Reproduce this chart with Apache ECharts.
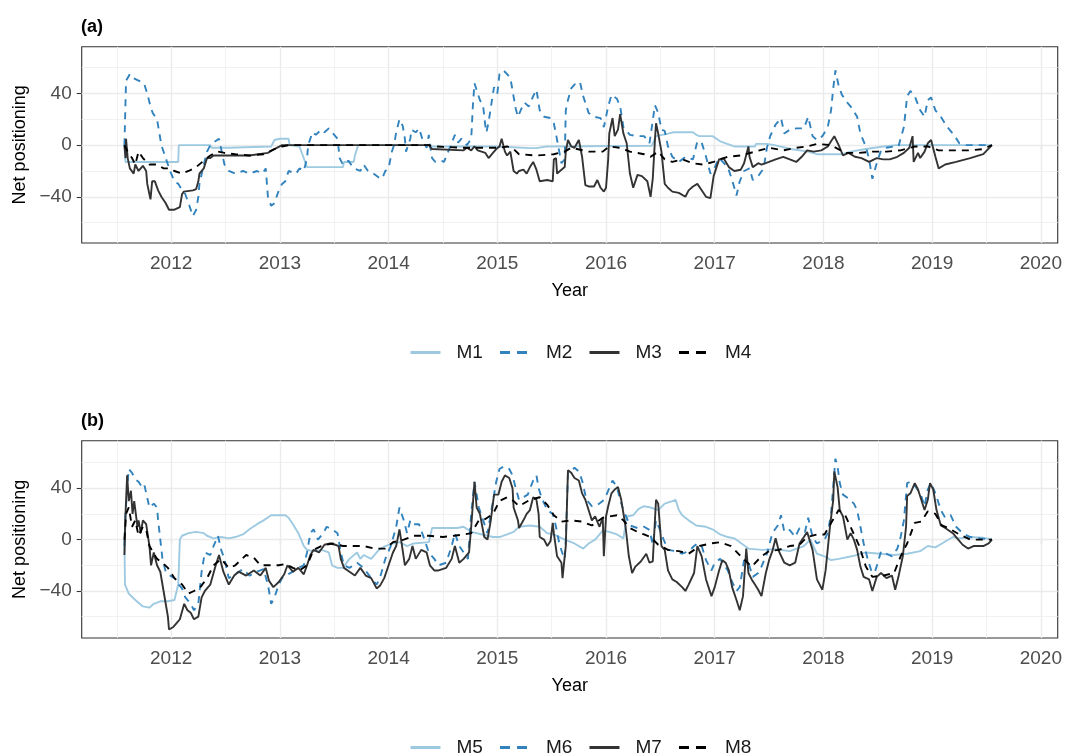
<!DOCTYPE html>
<html>
<head>
<meta charset="utf-8">
<script src="https://cdn.jsdelivr.net/npm/echarts@6/dist/echarts.min.js"></script>
<style>
  html, body { margin: 0; padding: 0; background: #fff; }
  #chart { width: 1065px; height: 755px; }
</style>
</head>
<body>
<div id="chart"></div>
<script>
// year ticks and y ticks
var yearTicks = [2012, 2013, 2014, 2015, 2016, 2017, 2018, 2019, 2020]
var halfYears = [2011.5, 2012.5, 2013.5, 2014.5, 2015.5, 2016.5, 2017.5, 2018.5, 2019.5]
var yTicks = [-40, 0, 40]
var yMinor = [-60, -20, 20, 60]

// panel (a)
var m1 = [[2011.57, 0], [2011.58, -13], [2012.065, -13], [2012.07, 0], [2012.36, 0], [2012.37, -2], [2012.53, -2],
  [2012.54, -1], [2012.92, -1], [2012.95, 4], [2013.0, 5], [2013.08, 5], [2013.09, 0], [2013.18, -1], [2013.25, -17],
  [2013.58, -17], [2013.59, -13], [2013.68, -13], [2013.69, -8], [2013.72, 0], [2014.37, 0], [2014.40, -1], [2015.0, -1],
  [2015.3, -2.3], [2015.36, -2.3], [2015.45, -1], [2016.42, -0.5], [2016.46, 7], [2016.57, 9], [2016.62, 10], [2016.80, 10],
  [2016.83, 8], [2016.86, 7], [2016.98, 7], [2017.05, 3], [2017.18, -1], [2017.37, -1], [2017.38, 1], [2017.48, 1],
  [2017.55, 0], [2017.70, -3], [2017.86, -5], [2017.94, -7], [2018.17, -7], [2018.25, -5], [2018.39, -3], [2018.55, -1],
  [2018.67, 0], [2019.55, 0]]

var m2 = [[2011.57, 0], [2011.585, 50], [2011.62, 55], [2011.65, 52], [2011.70, 50], [2011.75, 48], [2011.78, 40],
  [2011.81, 30], [2011.83, 25], [2011.87, 20], [2011.89, 10], [2011.91, 0], [2011.95, -10], [2011.99, -20], [2012.03, -28],
  [2012.066, -30], [2012.10, -35], [2012.13, -38], [2012.16, -45], [2012.20, -55], [2012.23, -50], [2012.25, -40],
  [2012.26, -30], [2012.30, -15], [2012.33, -5], [2012.36, 0], [2012.39, 2], [2012.44, 5], [2012.49, -15], [2012.53, -20],
  [2012.59, -22], [2012.66, -20], [2012.72, -22], [2012.79, -20], [2012.84, -22], [2012.87, -18], [2012.89, -40],
  [2012.92, -47], [2012.95, -45], [2012.99, -35], [2013.02, -30], [2013.05, -28], [2013.08, -20], [2013.15, -22],
  [2013.18, -18], [2013.22, -20], [2013.25, -10], [2013.26, 0], [2013.30, 10], [2013.33, 8], [2013.38, 12], [2013.41, 10],
  [2013.45, 13], [2013.50, 8], [2013.53, 5], [2013.55, -10], [2013.58, -15], [2013.63, -12], [2013.68, -18], [2013.74, -20],
  [2013.77, -15], [2013.81, -20], [2013.86, -22], [2013.91, -25], [2013.94, -26], [2013.97, -20], [2014.00, -18],
  [2014.03, -5], [2014.05, 0], [2014.07, 10], [2014.10, 20], [2014.13, 15], [2014.15, 5], [2014.16, -5], [2014.18, 0],
  [2014.20, 5], [2014.21, 12], [2014.25, 10], [2014.28, 13], [2014.31, 5], [2014.35, -2], [2014.37, 8], [2014.38, 0],
  [2014.40, -10], [2014.43, -13], [2014.48, -12], [2014.51, -13], [2014.61, 8], [2014.64, 2], [2014.67, 5], [2014.72, 0],
  [2014.76, 5], [2014.775, 30], [2014.79, 48], [2014.82, 40], [2014.84, 35], [2014.87, 30], [2014.89, 15], [2014.90, 10],
  [2014.92, 18], [2014.96, 40], [2014.97, 45], [2015.00, 40], [2015.02, 55], [2015.056, 58], [2015.09, 55], [2015.12, 52],
  [2015.145, 40], [2015.17, 28], [2015.19, 22], [2015.22, 28], [2015.25, 33], [2015.29, 30], [2015.33, 38], [2015.36, 43],
  [2015.39, 27], [2015.43, 22], [2015.49, 21], [2015.52, 17], [2015.55, 4], [2015.59, -14], [2015.62, -11], [2015.63, 27],
  [2015.65, 35], [2015.68, 44], [2015.71, 47], [2015.76, 49], [2015.79, 38], [2015.84, 25], [2015.89, 22], [2015.95, 21],
  [2015.98, 14], [2016.02, 30], [2016.05, 39], [2016.10, 36], [2016.13, 30], [2016.16, 14], [2016.22, 8], [2016.29, 7],
  [2016.35, 7], [2016.40, 1.5], [2016.45, 31], [2016.48, 25], [2016.51, 12], [2016.54, 11], [2016.57, -1], [2016.61, -9],
  [2016.67, -13], [2016.73, -9], [2016.80, -11], [2016.84, 3], [2016.88, 2], [2016.92, -9], [2016.96, -22], [2016.99, -19],
  [2017.04, -10], [2017.12, -17], [2017.16, -27], [2017.20, -39], [2017.23, -28], [2017.27, -20], [2017.32, -18],
  [2017.35, -27], [2017.40, -24], [2017.45, -18], [2017.48, -2], [2017.51, 7], [2017.56, 16], [2017.61, 21], [2017.64, 9],
  [2017.69, 12], [2017.75, 13], [2017.82, 13], [2017.86, 22], [2017.90, 7], [2017.94, 4], [2017.99, 7], [2018.04, 14],
  [2018.07, 27], [2018.09, 44], [2018.11, 58], [2018.14, 46], [2018.17, 39], [2018.22, 33], [2018.26, 29], [2018.31, 22],
  [2018.34, 9], [2018.39, -1], [2018.42, -11], [2018.45, -26], [2018.49, -14], [2018.53, -4], [2018.58, -2], [2018.65, -1],
  [2018.69, -1], [2018.74, 14], [2018.77, 38], [2018.80, 42], [2018.84, 38], [2018.89, 27], [2018.93, 22], [2018.96, 35],
  [2018.99, 37], [2019.03, 27], [2019.08, 22], [2019.14, 14], [2019.20, 8], [2019.25, 1.5], [2019.31, 0], [2019.55, 0]]

var m3 = [[2011.57, 0], [2011.58, -10], [2011.585, 5], [2011.60, -10], [2011.62, -18], [2011.655, -22], [2011.67, -15],
  [2011.70, -20], [2011.74, -16], [2011.77, -20], [2011.78, -30], [2011.80, -38], [2011.81, -42], [2011.825, -28],
  [2011.85, -28], [2011.88, -35], [2011.91, -40], [2011.95, -45], [2011.98, -50], [2012.03, -50], [2012.08, -48],
  [2012.10, -38], [2012.115, -36], [2012.20, -35], [2012.23, -34], [2012.25, -28], [2012.26, -22], [2012.30, -18],
  [2012.33, -10], [2012.36, -10], [2012.39, -8], [2012.56, -8], [2012.72, -8], [2012.89, -6], [2012.95, -3], [2013.02, 0],
  [2014.37, 0], [2014.40, -3], [2014.69, -4], [2014.72, -2], [2014.76, -4], [2014.79, -1], [2014.82, -4], [2014.89, -6],
  [2014.92, -10], [2014.96, -6], [2014.99, -3], [2015.02, -1], [2015.04, 5], [2015.07, -5], [2015.09, -8], [2015.12, -5],
  [2015.15, -20], [2015.18, -22], [2015.20, -20], [2015.24, -19], [2015.27, -22], [2015.30, -17], [2015.33, -13],
  [2015.36, -19], [2015.39, -28], [2015.46, -27], [2015.51, -28], [2015.52, -11], [2015.54, -10], [2015.55, -22],
  [2015.59, -19], [2015.62, -17], [2015.63, -5], [2015.65, 4], [2015.68, -1], [2015.71, -2], [2015.75, 4], [2015.78, -9],
  [2015.81, -31], [2015.84, -32], [2015.89, -32], [2015.92, -27], [2015.95, -33], [2015.98, -36], [2016.0, -33],
  [2016.02, -11], [2016.03, 9], [2016.06, 21], [2016.08, 7], [2016.11, 12], [2016.13, 24], [2016.16, 9], [2016.19, 1.5],
  [2016.22, -22], [2016.25, -33], [2016.29, -23], [2016.33, -24], [2016.38, -28], [2016.41, -40], [2016.43, -26],
  [2016.45, 4], [2016.46, 17], [2016.48, 9], [2016.51, -5], [2016.54, -30], [2016.57, -33], [2016.61, -36], [2016.67, -37],
  [2016.73, -40], [2016.76, -35], [2016.80, -32], [2016.84, -30], [2016.88, -35], [2016.92, -40], [2016.96, -41],
  [2016.99, -24], [2017.04, -11], [2017.08, -10], [2017.13, -17], [2017.18, -20], [2017.24, -19], [2017.27, -14],
  [2017.31, -1], [2017.32, -9], [2017.35, -17], [2017.40, -14], [2017.43, -15], [2017.50, -13], [2017.56, -11],
  [2017.63, -9], [2017.69, -11], [2017.75, -13], [2017.80, -9], [2017.85, -4], [2017.91, -5], [2017.98, -4], [2018.04, -1],
  [2018.07, 3], [2018.10, 7], [2018.14, 0], [2018.18, -8], [2018.23, -6], [2018.29, -9], [2018.35, -10], [2018.42, -13],
  [2018.49, -10], [2018.55, -11], [2018.61, -11], [2018.68, -9], [2018.74, -6], [2018.79, -2], [2018.82, 7], [2018.83, -13],
  [2018.87, -6], [2018.89, -10], [2018.93, -5], [2018.96, 1.5], [2018.99, 4], [2019.03, -9], [2019.06, -18], [2019.12, -15],
  [2019.22, -13], [2019.35, -10], [2019.47, -7], [2019.55, 0]]

var m4 = [[2011.57, 0], [2011.60, -5], [2011.64, -10], [2011.67, -15], [2011.70, -5], [2011.74, -10], [2011.80, -15],
  [2011.87, -15], [2011.93, -18], [2011.99, -18], [2012.03, -20], [2012.10, -22], [2012.16, -20], [2012.23, -17],
  [2012.30, -12], [2012.36, -8], [2012.43, -5], [2012.49, -6], [2012.59, -7], [2012.72, -8], [2012.85, -7], [2012.95, -3],
  [2013.02, -1], [2013.08, 0], [2014.37, 0], [2014.43, -1], [2014.69, -2], [2015.02, -2], [2015.09, -1], [2015.15, -3],
  [2015.20, -7], [2015.36, -8], [2015.52, -7], [2015.62, -5], [2015.68, -2], [2015.84, -5], [2015.97, -5], [2016.03, -1],
  [2016.13, -2], [2016.22, -5], [2016.35, -7], [2016.41, -9], [2016.48, -5], [2016.54, -11], [2016.61, -13], [2016.70, -11],
  [2016.80, -14], [2016.89, -15], [2016.99, -13], [2017.12, -9], [2017.24, -8], [2017.37, -5], [2017.50, -2], [2017.63, -4],
  [2017.75, -2], [2017.85, -1], [2017.94, 1], [2018.07, 0], [2018.20, -6], [2018.33, -6], [2018.45, -5], [2018.58, -5],
  [2018.71, -4], [2018.84, -1], [2018.96, -1], [2019.06, -4], [2019.19, -4], [2019.35, -4], [2019.47, -3], [2019.55, 0]]

// panel (b)
var m5 = [[2011.57, 0], [2011.575, -35], [2011.61, -42], [2011.67, -47], [2011.74, -52], [2011.80, -53], [2011.84, -50],
  [2011.90, -48], [2011.97, -48], [2012.03, -47], [2012.065, -35], [2012.08, 0], [2012.10, 3], [2012.16, 5], [2012.23, 6],
  [2012.30, 5], [2012.33, 3], [2012.39, 1], [2012.46, 2], [2012.53, 1], [2012.59, 2], [2012.66, 4], [2012.72, 8],
  [2012.79, 12], [2012.85, 15], [2012.92, 19], [2013.05, 19], [2013.08, 17], [2013.12, 12], [2013.17, 5], [2013.22, -5],
  [2013.25, -8], [2013.31, -9], [2013.38, -8], [2013.45, -10], [2013.48, -20], [2013.53, -22], [2013.58, -22],
  [2013.64, -15], [2013.71, -10], [2013.74, -15], [2013.77, -12], [2013.84, -15], [2013.91, -8], [2013.97, -5],
  [2014.04, -3], [2014.10, -2], [2014.17, -5], [2014.23, -3], [2014.37, -2], [2014.40, 9], [2014.63, 9], [2014.69, 10],
  [2014.76, 6], [2014.86, 4], [2014.96, 2], [2015.02, 2], [2015.09, 4], [2015.15, 6], [2015.20, 10], [2015.30, 11],
  [2015.39, 10], [2015.46, 5], [2015.52, 4], [2015.62, 0], [2015.71, -3], [2015.79, -7], [2015.84, -3], [2015.90, 0],
  [2015.97, 7], [2016.03, 6], [2016.10, 4], [2016.16, 1], [2016.19, 18], [2016.25, 19], [2016.30, 24], [2016.35, 26],
  [2016.41, 25], [2016.48, 23], [2016.54, 28], [2016.61, 30], [2016.64, 31], [2016.67, 23], [2016.70, 19], [2016.76, 15],
  [2016.83, 11], [2016.92, 10], [2016.99, 7.5], [2017.05, 4], [2017.12, 2], [2017.18, 1], [2017.31, -7], [2017.43, -8],
  [2017.56, -7.5], [2017.69, -9], [2017.82, -5], [2017.88, 0], [2017.94, -11], [2018.01, -13], [2018.07, -16],
  [2018.14, -15], [2018.26, -13], [2018.39, -10], [2018.52, -11], [2018.65, -12], [2018.77, -11], [2018.89, -9],
  [2018.96, -5], [2019.03, -6], [2019.09, -3], [2019.19, 2], [2019.25, 1], [2019.35, 2], [2019.47, 1.5], [2019.55, 0]]

var m6 = [[2011.57, -5], [2011.58, 20], [2011.595, 40], [2011.61, 55], [2011.64, 52], [2011.67, 47], [2011.70, 45],
  [2011.74, 40], [2011.755, 42], [2011.80, 25], [2011.84, 28], [2011.87, 25], [2011.88, 15], [2011.92, -15], [2011.95, -25],
  [2011.99, -28], [2012.03, -30], [2012.07, -35], [2012.10, -38], [2012.13, -45], [2012.18, -50], [2012.21, -55],
  [2012.25, -50], [2012.28, -25], [2012.31, -10], [2012.36, -12], [2012.39, -5], [2012.43, 3], [2012.46, -8], [2012.49, -15],
  [2012.53, -30], [2012.59, -27], [2012.66, -23], [2012.72, -28], [2012.79, -25], [2012.85, -23], [2012.89, -35],
  [2012.92, -50], [2012.95, -45], [2012.99, -35], [2013.02, -30], [2013.05, -28], [2013.12, -25], [2013.17, -22],
  [2013.22, -20], [2013.25, -10], [2013.28, 5], [2013.31, 8], [2013.35, 0], [2013.40, 5], [2013.43, 10], [2013.48, 8],
  [2013.53, 5], [2013.56, -10], [2013.59, -20], [2013.64, -22], [2013.71, -18], [2013.77, -22], [2013.84, -30],
  [2013.89, -35], [2013.92, -30], [2013.97, -15], [2014.02, -5], [2014.07, 10], [2014.10, 25], [2014.14, 15], [2014.17, 5],
  [2014.20, 15], [2014.23, 12], [2014.28, 12], [2014.33, 0], [2014.37, -10], [2014.42, -15], [2014.46, -20], [2014.53, -18],
  [2014.58, -5], [2014.61, 5], [2014.65, -5], [2014.69, -10], [2014.73, -15], [2014.76, 20], [2014.79, 45], [2014.83, 25],
  [2014.87, 15], [2014.91, 5], [2014.96, 30], [2014.99, 45], [2015.02, 55], [2015.06, 57], [2015.11, 55], [2015.14, 50],
  [2015.17, 40], [2015.20, 31], [2015.24, 33], [2015.28, 35], [2015.33, 46], [2015.36, 50], [2015.38, 40], [2015.41, 32],
  [2015.46, 23], [2015.51, 20], [2015.54, 10], [2015.57, -3], [2015.60, -11], [2015.62, -15], [2015.63, 0], [2015.65, 52],
  [2015.68, 54], [2015.71, 56], [2015.75, 53], [2015.78, 46], [2015.82, 31], [2015.87, 26], [2015.92, 27], [2015.97, 30],
  [2016.0, 34], [2016.03, 40], [2016.06, 46], [2016.10, 41], [2016.13, 31], [2016.16, 23], [2016.22, 11], [2016.29, 9],
  [2016.35, 10], [2016.40, 7.5], [2016.43, -4], [2016.46, 15], [2016.49, 9], [2016.53, 0], [2016.57, -8], [2016.64, -9],
  [2016.70, -11], [2016.76, -9], [2016.81, -5], [2016.84, -3], [2016.88, -5], [2016.92, -16], [2016.97, -24],
  [2017.00, -18], [2017.05, -15], [2017.12, -24], [2017.16, -33], [2017.20, -40], [2017.23, -37], [2017.27, -16],
  [2017.31, -18], [2017.35, -29], [2017.40, -26], [2017.43, -21], [2017.48, -11], [2017.53, 5], [2017.58, 11],
  [2017.61, 19], [2017.64, 6], [2017.69, 7.5], [2017.74, 2], [2017.78, 9], [2017.83, 6], [2017.86, 17], [2017.90, 2],
  [2017.94, -3], [2018.01, 0], [2018.04, 5], [2018.07, 20], [2018.09, 41], [2018.11, 63], [2018.13, 57], [2018.15, 44],
  [2018.18, 35], [2018.23, 32], [2018.28, 28], [2018.31, 23], [2018.34, 10], [2018.37, -3], [2018.41, -16], [2018.44, -24],
  [2018.47, -26], [2018.50, -18], [2018.53, -9], [2018.58, -11], [2018.63, -13], [2018.68, -7], [2018.71, 2], [2018.74, 15],
  [2018.77, 44], [2018.80, 45], [2018.85, 41], [2018.90, 34], [2018.93, 26], [2018.96, 39], [2018.99, 44], [2019.03, 36],
  [2019.08, 23], [2019.12, 17], [2019.17, 19], [2019.22, 10], [2019.28, 5], [2019.35, 2], [2019.44, 1], [2019.55, 0]]

var m7 = [[2011.57, -12], [2011.58, 20], [2011.595, 50], [2011.61, 30], [2011.63, 38], [2011.645, 20], [2011.66, 30],
  [2011.69, 10], [2011.70, 15], [2011.72, 5], [2011.74, 15], [2011.77, 12], [2011.80, -5], [2011.815, -20], [2011.84, -10],
  [2011.87, -20], [2011.90, -25], [2011.93, -40], [2011.97, -60], [2011.98, -70], [2012.02, -68], [2012.05, -65],
  [2012.08, -62], [2012.12, -50], [2012.15, -55], [2012.18, -57], [2012.21, -62], [2012.25, -60], [2012.28, -45],
  [2012.31, -40], [2012.36, -35], [2012.41, -20], [2012.44, -12], [2012.48, -25], [2012.53, -35], [2012.58, -28],
  [2012.62, -25], [2012.69, -28], [2012.76, -24], [2012.82, -28], [2012.87, -22], [2012.90, -32], [2012.94, -37],
  [2012.99, -33], [2013.04, -27], [2013.07, -20], [2013.12, -25], [2013.17, -22], [2013.22, -27], [2013.25, -20],
  [2013.28, -12], [2013.31, -8], [2013.36, -10], [2013.41, -4], [2013.46, -3], [2013.51, -4], [2013.54, -5], [2013.56, -15],
  [2013.59, -22], [2013.64, -25], [2013.69, -28], [2013.74, -22], [2013.79, -28], [2013.84, -30], [2013.89, -38],
  [2013.92, -36], [2013.96, -30], [2014.00, -20], [2014.04, -10], [2014.07, -5], [2014.10, 8], [2014.12, -3],
  [2014.15, -20], [2014.19, -15], [2014.22, -5], [2014.25, -15], [2014.30, -8], [2014.35, -10], [2014.38, -20],
  [2014.42, -24], [2014.46, -24], [2014.53, -22], [2014.58, -15], [2014.61, -5], [2014.65, -18], [2014.69, -15],
  [2014.74, -10], [2014.76, 10], [2014.79, 45], [2014.81, 25], [2014.84, 20], [2014.88, 2], [2014.91, 0], [2014.94, 15],
  [2014.97, 35], [2015.01, 35], [2015.04, 45], [2015.07, 50], [2015.11, 48], [2015.14, 40], [2015.15, 25], [2015.19, 15],
  [2015.20, 9], [2015.24, 15], [2015.27, 20], [2015.30, 23], [2015.33, 33], [2015.36, 31], [2015.38, 20], [2015.39, 2],
  [2015.43, 0], [2015.46, -5], [2015.49, -1], [2015.51, 13], [2015.52, 5], [2015.55, -13], [2015.59, -18], [2015.60, -30],
  [2015.62, -13], [2015.63, -5], [2015.65, 54], [2015.68, 52], [2015.71, 48], [2015.75, 46], [2015.78, 36], [2015.81, 31],
  [2015.84, 23], [2015.87, 15], [2015.90, 18], [2015.94, 10], [2015.97, 17], [2015.98, -13], [2016.00, 18], [2016.02, 26],
  [2016.05, 36], [2016.08, 39], [2016.11, 41], [2016.14, 31], [2016.18, 10], [2016.21, -13], [2016.24, -26], [2016.27, -21],
  [2016.32, -17], [2016.37, -11], [2016.40, -18], [2016.43, -17], [2016.46, 31], [2016.48, 28], [2016.51, -5],
  [2016.54, -8], [2016.57, -24], [2016.61, -31], [2016.65, -33], [2016.70, -37], [2016.73, -40], [2016.76, -35],
  [2016.81, -26], [2016.84, -5], [2016.88, -13], [2016.92, -31], [2016.97, -44], [2017.00, -37], [2017.04, -24],
  [2017.07, -16], [2017.10, -18], [2017.13, -24], [2017.16, -37], [2017.20, -47], [2017.23, -55], [2017.26, -44],
  [2017.29, -7], [2017.31, -26], [2017.34, -31], [2017.37, -35], [2017.40, -39], [2017.43, -44], [2017.47, -26],
  [2017.50, -16], [2017.53, -9], [2017.56, 1], [2017.59, -9], [2017.64, -18], [2017.69, -20], [2017.74, -18], [2017.78, -3],
  [2017.82, 2], [2017.85, 6], [2017.90, -8], [2017.94, -31], [2017.99, -39], [2018.02, -24], [2018.06, 10], [2018.09, 31],
  [2018.10, 53], [2018.13, 41], [2018.15, 23], [2018.18, 18], [2018.22, 0], [2018.25, 5], [2018.28, 0], [2018.31, -8],
  [2018.34, -21], [2018.37, -29], [2018.42, -31], [2018.45, -40], [2018.49, -29], [2018.53, -26], [2018.58, -30],
  [2018.63, -28], [2018.66, -39], [2018.69, -29], [2018.73, -13], [2018.76, 10], [2018.77, 34], [2018.80, 36],
  [2018.84, 44], [2018.87, 39], [2018.90, 31], [2018.93, 23], [2018.96, 31], [2018.98, 44], [2019.01, 39], [2019.04, 23],
  [2019.08, 11], [2019.12, 9], [2019.19, 5], [2019.24, 0], [2019.28, -4], [2019.33, -7], [2019.38, -5], [2019.47, -5],
  [2019.52, -3], [2019.55, 0]]

var m8 = [[2011.57, 0], [2011.585, 20], [2011.61, 25], [2011.64, 10], [2011.67, 15], [2011.70, 3], [2011.74, 10],
  [2011.77, 8], [2011.80, -5], [2011.87, -15], [2011.92, -18], [2011.97, -22], [2012.03, -30], [2012.10, -35],
  [2012.16, -42], [2012.21, -40], [2012.26, -38], [2012.33, -30], [2012.39, -20], [2012.46, -15], [2012.53, -22],
  [2012.59, -20], [2012.69, -12], [2012.76, -14], [2012.82, -20], [2012.89, -20], [2012.99, -20], [2013.05, -19],
  [2013.12, -22], [2013.18, -24], [2013.25, -20], [2013.31, -8], [2013.38, -5], [2013.48, -3], [2013.58, -5], [2013.68, -5],
  [2013.77, -5], [2013.87, -7], [2013.97, -7], [2014.04, -2], [2014.14, 0], [2014.23, 3], [2014.37, 3], [2014.50, 2],
  [2014.60, 3], [2014.69, 4], [2014.76, 5], [2014.83, 15], [2014.89, 16], [2014.96, 20], [2015.02, 30], [2015.09, 33],
  [2015.15, 30], [2015.20, 26], [2015.30, 31], [2015.39, 33], [2015.46, 27], [2015.52, 19], [2015.59, 14], [2015.68, 15],
  [2015.78, 14], [2015.87, 11], [2015.97, 17], [2016.03, 18], [2016.10, 19], [2016.16, 15], [2016.22, 9], [2016.29, 6],
  [2016.35, 4], [2016.41, 2], [2016.48, -4], [2016.57, -8], [2016.67, -9], [2016.76, -11], [2016.86, -5], [2016.96, -3],
  [2017.05, -2], [2017.15, -5], [2017.24, -13], [2017.34, -21], [2017.43, -13], [2017.50, -9], [2017.59, -8], [2017.69, -5],
  [2017.78, -4], [2017.85, 2], [2017.94, 4], [2018.01, 4], [2018.07, 13], [2018.14, 23], [2018.20, 19], [2018.26, 8],
  [2018.33, -5], [2018.39, -21], [2018.45, -29], [2018.55, -28], [2018.65, -26], [2018.71, -13], [2018.77, -3],
  [2018.84, 13], [2018.90, 14], [2018.96, 22], [2019.03, 20], [2019.09, 11], [2019.15, 9], [2019.25, 4], [2019.35, 0],
  [2019.44, 0], [2019.55, 0]]

var font = "'Liberation Sans', Arial, sans-serif"
var colors = ['#9ecae1', '#3182bd', '#333333', '#000000']

var chart = echarts.init(document.getElementById('chart'), null, {renderer: 'canvas'})

function gridLines() {
  var d = []
  halfYears.forEach(function(v) { d.push({xAxis: v, lineStyle: {color: '#f0f0f0', width: 0.9, type: 'solid'}}) })
  yMinor.forEach(function(v) { d.push({yAxis: v, lineStyle: {color: '#f0f0f0', width: 0.9, type: 'solid'}}) })
  yearTicks.forEach(function(v) { d.push({xAxis: v, lineStyle: {color: '#ebebeb', width: 1.4, type: 'solid'}}) })
  yTicks.forEach(function(v) { d.push({yAxis: v, lineStyle: {color: '#ebebeb', width: 1.4, type: 'solid'}}) })
  return d
}

function series(name, data, idx, color, dashed, withGrid) {
  var s = {
    name: name,
    type: 'line',
    xAxisIndex: idx,
    yAxisIndex: idx,
    data: data,
    symbol: 'none',
    showSymbol: false,
    animation: false,
    z: 3,
    itemStyle: {color: color},
    lineStyle: {color: color, width: 1.9, type: dashed ? [7, 6] : 'solid'}
  }
  if (withGrid) {
    s.markLine = {silent: true, symbol: 'none', animation: false, z: 1, label: {show: false}, data: gridLines()}
  }
  return s
}

function xAxis(idx) {
  return {
    type: 'value', gridIndex: idx, min: 2011.177, max: 2020.155,
    name: 'Year', nameLocation: 'middle', nameGap: 39,
    nameTextStyle: {fontFamily: font, fontSize: 18, color: '#000'},
    axisLine: {show: false},
    splitLine: {show: false},
    axisTick: {show: true, length: 5, customValues: yearTicks, lineStyle: {color: '#333', width: 1.1}},
    axisLabel: {customValues: yearTicks, margin: 11, fontFamily: font, fontSize: 19, color: '#4d4d4d',
      formatter: function(v) { return String(v) }}
  }
}

function yAxis(idx, mn, mx) {
  return {
    type: 'value', gridIndex: idx, min: mn, max: mx,
    name: 'Net positioning', nameLocation: 'middle', nameGap: 47, nameRotate: 90,
    nameTextStyle: {fontFamily: font, fontSize: 18, color: '#000'},
    axisLine: {show: false},
    splitLine: {show: false},
    axisTick: {show: true, length: 5, customValues: yTicks, lineStyle: {color: '#333', width: 1.1}},
    axisLabel: {customValues: yTicks, margin: 10, fontFamily: font, fontSize: 19, color: '#4d4d4d',
      formatter: function(v) { return v < 0 ? '\u2212' + Math.abs(v) : String(v) }}
  }
}

function legend(names, top) {
  var items = names.map(function(n, i) {
    return (i % 2 === 1) ? {name: n, lineStyle: {type: [10, 7], width: 3}} : {name: n, lineStyle: {width: 3}}
  })
  return {
    data: items, top: top, left: 409, padding: 0, itemGap: 15.6, itemWidth: 30, itemHeight: 14,
    selectedMode: false,
    itemStyle: {opacity: 0},
    textStyle: {fontFamily: font, fontSize: 19, color: '#1a1a1a', padding: [0, 0, 0, 11]}
  }
}

var option = {
  backgroundColor: '#fff',
  animation: false,
  title: [
    {text: '(a)', left: 81, top: 18, padding: 0, textStyle: {fontFamily: font, fontSize: 18, fontWeight: 'bold', color: '#000'}},
    {text: '(b)', left: 81, top: 412, padding: 0, textStyle: {fontFamily: font, fontSize: 18, fontWeight: 'bold', color: '#000'}}
  ],
  grid: [
    {left: 81.7, top: 46.7, width: 978.3, height: 196.3, show: true, borderColor: '#333', borderWidth: 1.1, backgroundColor: 'transparent'},
    {left: 81.7, top: 440.7, width: 978.3, height: 197.3, show: true, borderColor: '#333', borderWidth: 1.1, backgroundColor: 'transparent'}
  ],
  xAxis: [xAxis(0), xAxis(1)],
  yAxis: [yAxis(0, -75.8, 76.3), yAxis(1, -76.6, 77.0)],
  legend: [legend(['M1', 'M2', 'M3', 'M4'], 343), legend(['M5', 'M6', 'M7', 'M8'], 738)],
  series: [
    series('M1', m1, 0, colors[0], false, true),
    series('M2', m2, 0, colors[1], true),
    series('M3', m3, 0, colors[2], false),
    series('M4', m4, 0, colors[3], true),
    series('M5', m5, 1, colors[0], false, true),
    series('M6', m6, 1, colors[1], true),
    series('M7', m7, 1, colors[2], false),
    series('M8', m8, 1, colors[3], true)
  ]
}
chart.setOption(option)
</script>
</body>
</html>
